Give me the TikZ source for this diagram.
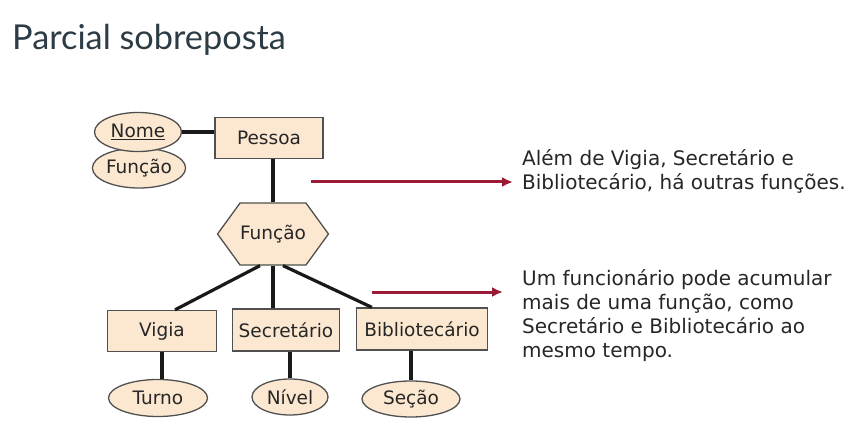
\documentclass[tikz,border=0pt]{standalone}
\usepackage{fontspec}
\setmainfont{DejaVu Sans}
\newfontfamily\titlefont{Lato}
\usepackage{tikz}
\usetikzlibrary{arrows.meta,calc,shapes.geometric,shapes.symbols}
\definecolor{peach}{HTML}{FCE8D0}
\definecolor{edgegray}{HTML}{505050}
\definecolor{wine}{HTML}{9B1B36}
\definecolor{titlegray}{HTML}{2D3B45}
\tikzset{
  ebox/.style  ={draw=edgegray, line width=1.3pt, fill=peach, inner sep=0pt,
                 minimum height=41pt, text=black!85, font=\fontsize{18.5pt}{21pt}\selectfont},
  eattr/.style ={ebox, ellipse, minimum height=37pt},
  erel/.style  ={ebox, signal, signal to=east and west, signal pointer angle=108,
                 minimum width=95pt, minimum height=62pt},
  elink/.style ={line width=3.2pt, black!90},
  earr/.style  ={-{Latex[length=11pt,width=10pt]}, line width=3pt, wine},
  enote/.style ={align=left, inner sep=0pt, anchor=base west,
                 font=\fontsize{20pt}{24pt}\selectfont, text=black!85},
}
\begin{document}
\begin{tikzpicture}[x=1pt,y=-1pt]
\useasboundingbox (0,0) rectangle (864,438);

\node[anchor=base west, inner sep=0pt, text=titlegray,
      font=\titlefont\fontsize{34.3pt}{38pt}\selectfont] (title) at (12,50) {Parcial sobreposta};

% entidade e atributos
\node[ebox, minimum width=108pt] (pes) at (269,138) {Pessoa};
\node[eattr, minimum width=88pt, minimum height=40pt] (fatt) at (139,168) {Função};
\node[eattr, minimum width=87pt, minimum height=39pt] (nome) at (138,132) {\underline{Nome}};

\node[erel] (fun) at (273,234) {Função};

\node[ebox, minimum width=109pt] (vig) at (162,331) {Vigia};
\node[ebox, minimum width=107pt, minimum height=42pt] (sec) at (286,330) {Secretário};
\node[ebox, minimum width=131pt, minimum height=42pt] (bib) at (422,329) {Bibliotecário};

\node[eattr, minimum width=99pt] (tur) at (158,398) {Turno};
\node[eattr, minimum width=76pt, minimum height=36pt] (niv) at (290,397) {Nível};
\node[eattr, minimum width=98pt, minimum height=36pt] (seç) at (411,399) {Seção};

\draw[elink] (nome.east) -- (nome.east -| pes.west);
\draw[elink] (pes.south -| fun.north) -- (fun.north);
\draw[elink] ($(fun.south)+(-13,0)$) -- ($(vig.north)+(13,0)$);
\draw[elink] (fun.south) -- (fun.south |- sec.north);
\draw[elink] ($(fun.south)+(10,0)$) -- ($(bib.north west)+(16,0)$);
\draw[elink] (vig.south) -- (vig.south |- tur.north);
\draw[elink] (niv.north |- sec.south) -- (niv.north);
\draw[elink] (seç.north |- bib.south) -- (seç.north);

% notas
\node[enote] (n1) at (522,190) {Além de Vigia, Secretário e\\Bibliotecário, há outras funções.};
\node[enote] (n2) at (522,357) {Um funcionário pode acumular\\mais de uma função, como\\Secretário e Bibliotecário ao\\mesmo tempo.};

\coordinate (a1) at (311,182);
\coordinate (a2) at (372,292);
\draw[earr] (a1) -- ($(a1 -| n1.west)+(-9,0)$);
\draw[earr] (a2) -- ($(a2 -| n2.west)+(-19,0)$);

\end{tikzpicture}
\end{document}
